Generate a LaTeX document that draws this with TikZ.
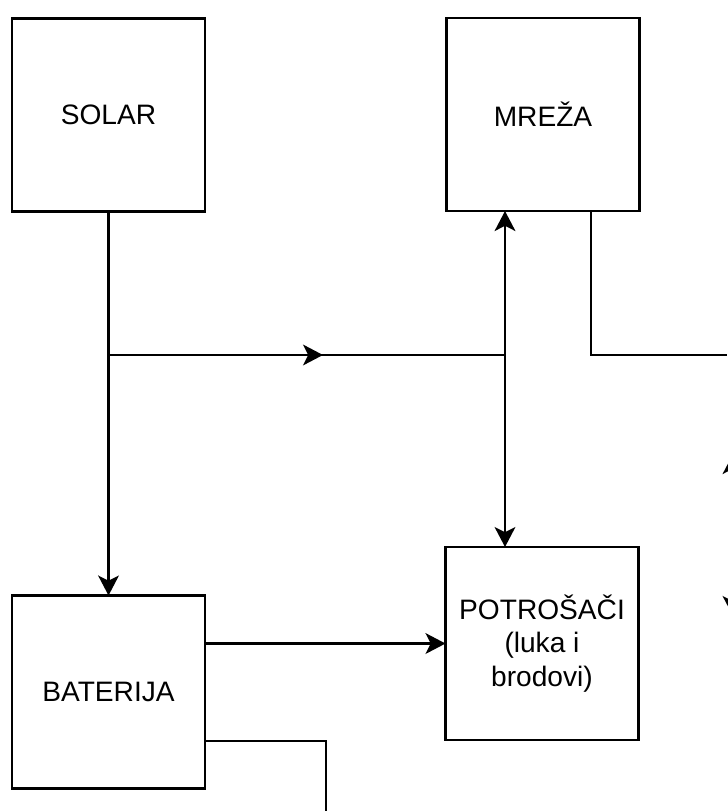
\documentclass[tikz,border=0pt]{standalone}
\usepackage{fontspec}
\setmainfont{Liberation Sans}
\usetikzlibrary{arrows.meta,calc}

\begin{document}
\begin{tikzpicture}[
  blok/.style={draw,line width=1.5pt,minimum width=4.825cm,minimum height=4.825cm,
    inner sep=0pt,outer sep=0pt,align=center,font=\fontsize{20}{24}\selectfont},
  vod/.style={line width=1.5pt},
  >={Stealth[length=0.5cm,width=0.52cm,inset=0.13cm]}]
\useasboundingbox (0.000,0.000) rectangle (18.175,-20.275);
\node[blok] (solar) at (2.713,-2.875) {SOLAR};
\node[blok] (mreza) at (13.575,-2.863) {MREŽA};
\node[blok] (baterija) at (2.713,-17.300) {BATERIJA};
\node[blok] (potrosaci) at (13.550,-16.088) {POTROŠAČI\\(luka i\\brodovi)};
\coordinate (j1) at (2.713,-8.875);
\coordinate (j2) at (12.625,-8.875);
\coordinate (sred) at (8.075,-8.875);
\coordinate (desno) at (18.175,-8.875);
\coordinate (dolje) at (8.150,-20.290);
\coordinate (kraj) at (18.500,-20.290);
\coordinate (r1) at (18.325,-11.350);
\coordinate (r2) at (18.325,-15.400);
\draw[vod,->] (solar) -- (baterija);
\draw[vod] (j1) -- (j2);
\draw[vod,->] (j1) -- (sred);
\draw[vod,<->] (mreza.south -| j2) -- (potrosaci.north -| j2);
\draw[vod] ($(mreza.south)+(1.200,0)$) |- (desno);
\draw[vod,->] (baterija.east |- potrosaci.west) -- (potrosaci.west);
\draw[vod] ($(baterija.east)+(0,-1.225)$) -| (dolje) -- (kraj);
\draw[vod,<->] (r1) -- (r2);
\end{tikzpicture}
\end{document}
